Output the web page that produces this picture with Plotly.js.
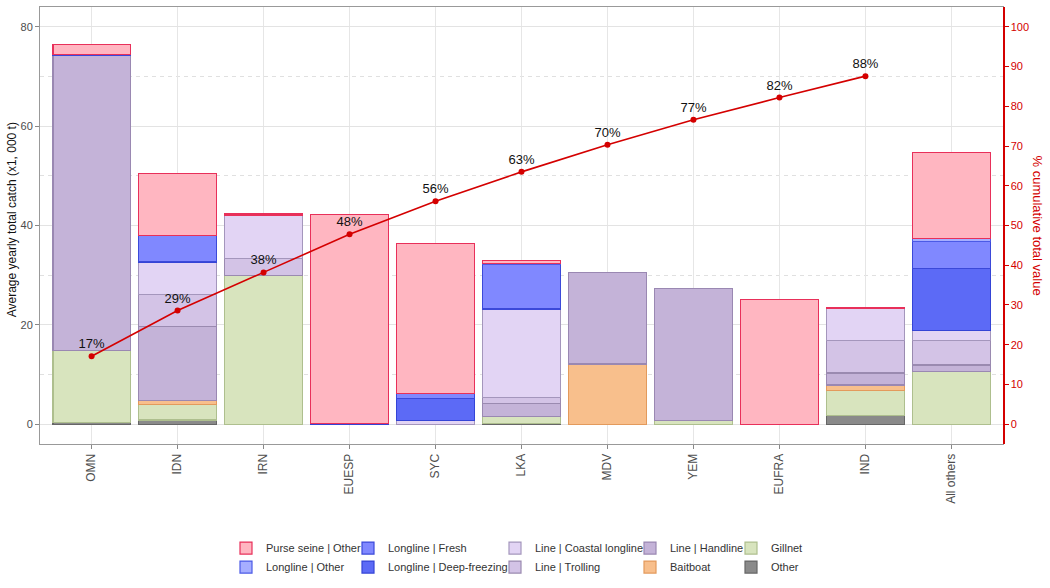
<!DOCTYPE html>
<html>
<head>
<meta charset="utf-8">
<script src="https://cdn.plot.ly/plotly-3.0.1.min.js"></script>
<style>
  body { margin: 0; background: #fff; }
  #chart { width: 1050px; height: 588px; }
</style>
</head>
<body>
<div id="chart"></div>
<script>
// fleets (x axis)
var fleets = ['OMN', 'IDN', 'IRN', 'EUESP', 'SYC', 'LKA', 'MDV', 'YEM', 'EUFRA', 'IND', 'All others']

// catch by gear, x1000 t (null = no catch)
var other        = [0.3, 0.85, null, null, null, 0.1, null, null, null, 1.8, null]
var gillnet      = [14.6, 3.05, 30.0, null, null, 1.4, null, 0.7, null, 5.0, 10.6]
var baitboat     = [null, 0.85, null, null, null, null, 12.1, null, null, 1.1, null]
var handline     = [59.3, 14.9, null, null, null, 2.7, 18.4, 26.6, null, 2.4, 1.3]
var trolling     = [null, 6.4, 3.4, null, null, 1.1, null, null, null, 6.6, 5.0]
var coastal      = [null, 6.5, 8.7, null, 0.7, 17.9, null, null, null, 6.4, 1.9]
var deepFreezing = [null, 0.2, null, 0.15, 4.4, null, null, null, null, null, 12.6]
var fresh        = [0.2, 5.3, null, null, 1.0, 8.9, null, null, null, null, 5.4]
var llOther      = [null, null, null, null, null, 0.3, null, null, null, null, 0.6]
var purseSeine   = [2.1, 12.4, 0.3, 42.1, 30.3, 0.5, null, null, 25.1, 0.1, 17.3]

// cumulative share (%) of the first ten fleets
var cumFleets = ['OMN', 'IDN', 'IRN', 'EUESP', 'SYC', 'LKA', 'MDV', 'YEM', 'EUFRA', 'IND']
var cumPct    = [17.1, 28.6, 38.2, 47.8, 56.1, 63.5, 70.3, 76.6, 82.2, 87.6]
var cumLabels = ['17%', '29%', '38%', '48%', '56%', '63%', '70%', '77%', '82%', '88%']

var FONT = 'Liberation Sans, Arial, sans-serif'

// bottom-to-top stacking order
var gears = [
  {name: 'Other',                  y: other,        fill: '#8A8A8A', line: '#666666', legend: 'legend5'},
  {name: 'Gillnet',                y: gillnet,      fill: '#D8E4BE', line: '#AEBF8E', legend: 'legend5'},
  {name: 'Baitboat',               y: baitboat,     fill: '#F8BF8C', line: '#E39A5C', legend: 'legend4'},
  {name: 'Line | Handline',        y: handline,     fill: '#C4B3D8', line: '#9A88B2', legend: 'legend4'},
  {name: 'Line | Trolling',        y: trolling,     fill: '#D3C3E6', line: '#9A8AB0', legend: 'legend3'},
  {name: 'Line | Coastal longline',y: coastal,      fill: '#E2D4F4', line: '#A496BC', legend: 'legend3'},
  {name: 'Longline | Deep-freezing', y: deepFreezing, fill: '#5C6AF6', line: '#3444D6', legend: 'legend2'},
  {name: 'Longline | Fresh',       y: fresh,        fill: '#8088FF', line: '#3B49D9', legend: 'legend2'},
  {name: 'Longline | Other',       y: llOther,      fill: '#A6AEFF', line: '#4B5AE6', legend: 'legend'},
  {name: 'Purse seine | Other',    y: purseSeine,   fill: '#FFB6C1', line: '#E8305A', legend: 'legend'}
]

var traces = gears.map(g => ({
  type: 'bar',
  name: g.name,
  x: fleets,
  y: g.y,
  legend: g.legend,
  marker: {color: g.fill, line: {color: g.line, width: 1.2}},
  hoverinfo: 'x+y+name'
}))

traces.push({
  type: 'scatter',
  mode: 'lines+markers+text',
  x: cumFleets,
  y: cumPct,
  yaxis: 'y2',
  text: cumLabels,
  textposition: 'top center',
  textfont: {family: FONT, size: 13, color: '#111'},
  line: {color: '#D40000', width: 1.6},
  marker: {color: '#D40000', size: 6},
  showlegend: false,
  cliponaxis: false
})

function legendAt(px) {
  return {
    x: (px - 40) / 963, y: -0.205, xanchor: 'left', yanchor: 'top',
    orientation: 'v', traceorder: 'reversed',
    bgcolor: 'rgba(0,0,0,0)', font: {family: FONT, size: 11, color: '#333'},
    itemwidth: 30
  }
}

var layout = {
  width: 1050,
  height: 588,
  margin: {l: 40, r: 47, t: 7, b: 140},
  paper_bgcolor: '#fff',
  plot_bgcolor: '#fff',
  font: {family: FONT, size: 12, color: '#4D4D4D'},
  barmode: 'stack',
  bargap: 0.1,
  xaxis: {
    type: 'category',
    range: [-0.6, 10.6],
    tickangle: -90,
    showgrid: true, gridcolor: '#E6E6E6', gridwidth: 1,
    ticks: 'outside', ticklen: 4, tickcolor: '#888',
    showline: true, linecolor: '#999', linewidth: 1, mirror: true,
    tickfont: {family: FONT, size: 12, color: '#4D4D4D'},
    zeroline: false
  },
  yaxis: {
    range: [-4, 84],
    dtick: 20,
    showgrid: true, gridcolor: '#E3E3E3', gridwidth: 1,
    minor: {dtick: 10, showgrid: true, gridcolor: '#E0E0E0', griddash: '4px,4px', gridwidth: 1},
    ticks: 'outside', ticklen: 4, tickcolor: '#888',
    showline: true, linecolor: '#999', linewidth: 1, mirror: true,
    tickfont: {family: FONT, size: 11, color: '#4D4D4D'},
    zeroline: false
  },
  yaxis2: {
    overlaying: 'y',
    side: 'right',
    range: [-5, 105],
    dtick: 10,
    showgrid: false,
    ticks: 'outside', ticklen: 4, tickcolor: '#D40000',
    showline: true, linecolor: '#D40000', linewidth: 1.5,
    tickfont: {family: FONT, size: 11, color: '#D40000'},
    zeroline: false
  },
  legend: legendAt(226),
  legend2: legendAt(348),
  legend3: legendAt(495),
  legend4: legendAt(630),
  legend5: legendAt(731),
  annotations: [
    {
      text: 'Average yearly total catch (x1, 000 t)',
      xref: 'paper', yref: 'paper', x: (12 - 40) / 963, y: 0.512,
      xanchor: 'center', yanchor: 'middle', textangle: -90, showarrow: false,
      font: {family: FONT, size: 12, color: '#111'}
    },
    {
      text: '% cumulative total value',
      xref: 'paper', yref: 'paper', x: (1037 - 40) / 963, y: 0.5,
      xanchor: 'center', yanchor: 'middle', textangle: 90, showarrow: false,
      font: {family: FONT, size: 13, color: '#D40000'}
    }
  ]
}

Plotly.newPlot('chart', traces, layout, {displayModeBar: false, staticPlot: true})
</script>
</body>
</html>
